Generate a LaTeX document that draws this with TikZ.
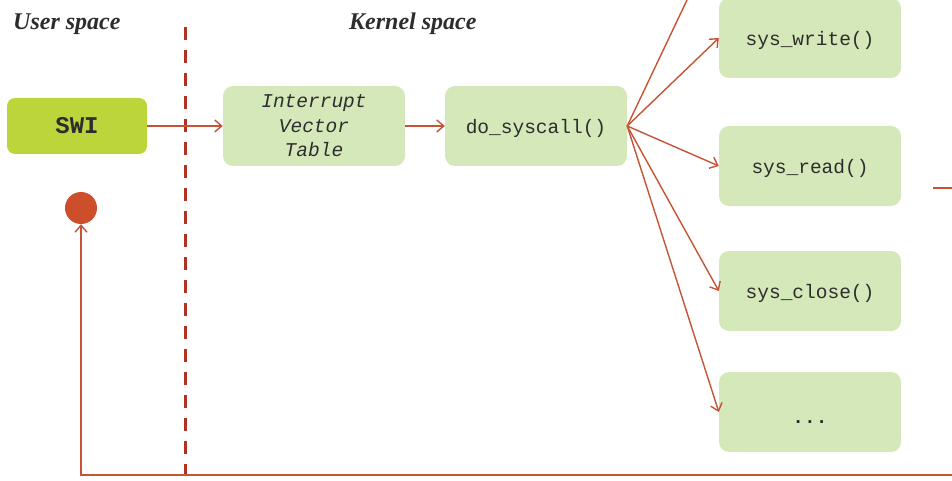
\documentclass[tikz,border=0pt]{standalone}
\usepackage{fontspec}
\setmainfont{Liberation Serif}
\setmonofont{Liberation Mono}
\usetikzlibrary{arrows.meta}
\definecolor{wire}{RGB}{198,84,52}
\definecolor{divider}{RGB}{176,50,34}
\definecolor{boxfill}{RGB}{213,232,185}
\definecolor{swifill}{RGB}{188,213,58}
\definecolor{dotfill}{RGB}{204,78,42}
\definecolor{ink}{RGB}{45,45,45}

\begin{document}
\begin{tikzpicture}[x=1pt,y=-1pt,
  callbox/.style={rounded corners=10pt, fill=boxfill, minimum width=182pt,
    minimum height=80pt, inner sep=0pt, text=ink,
    font=\ttfamily\fontsize{19.5}{24.5}\selectfont},
  oneline/.style={text height=1.65em, text depth=0.15em},
  link/.style={draw=wire, line width=1.4pt, -{Straight Barb[length=7pt,width=12pt]}},
  plainlink/.style={draw=wire, line width=1.4pt},
  heading/.style={font=\bfseries\itshape\fontsize{24}{28}\selectfont, text=ink,
    anchor=base west, inner sep=0pt}]

\useasboundingbox (0,0) rectangle (952,481);

% headings
\node[heading] (us) at (13,30) {User space};
\node[heading] (ks) at (349,30) {Kernel space};

% user/kernel boundary
\coordinate (dtop) at (185,27);
\coordinate (dbot) at (185,476);
\draw[divider, line width=3pt, dash pattern=on 13pt off 10pt] (dtop) -- (dbot);

% boxes
\node[callbox, fill=swifill, minimum width=140pt, minimum height=56pt, rounded corners=8pt,
  font=\ttfamily\bfseries\fontsize{24}{26}\selectfont] (swi) at (77,126) {SWI};
\node[callbox, align=center, font=\ttfamily\itshape\fontsize{19.5}{24.5}\selectfont]
  (ivt) at (314,126) {Interrupt\\Vector\\Table};
\node[callbox, oneline] (do) at (536,126) {do\_syscall()};
\node[callbox, oneline] (write) at (810,38) {sys\_write()};
\node[callbox, oneline] (read) at (810,166) {sys\_read()};
\node[callbox, oneline] (close) at (810,291) {sys\_close()};
\node[callbox, text height=2.45em, text depth=0.15em] (more) at (810,412) {\textbf{...}};

% return point
\node[circle, fill=dotfill, minimum size=32pt, inner sep=0pt] (ret) at (81,208) {};

% connectors
\draw[link] (swi.east) -- (ivt.west);
\draw[link] (ivt.east) -- (do.west);
\coordinate (upper) at (687,0);
\draw[plainlink] (do.east) -- (upper);
\draw[link] (do.east) -- (write.west);
\draw[link] (do.east) -- (read.west);
\draw[link] (do.east) -- (close.west);
\draw[link] (do.east) -- (more.west);

\coordinate (stubA) at (933,188);
\coordinate (stubB) at (952,188);
\draw[plainlink] (stubA) -- (stubB);

\coordinate (rin) at (952,475);
\draw[link] (rin) -| (ret.south);
\end{tikzpicture}
\end{document}
